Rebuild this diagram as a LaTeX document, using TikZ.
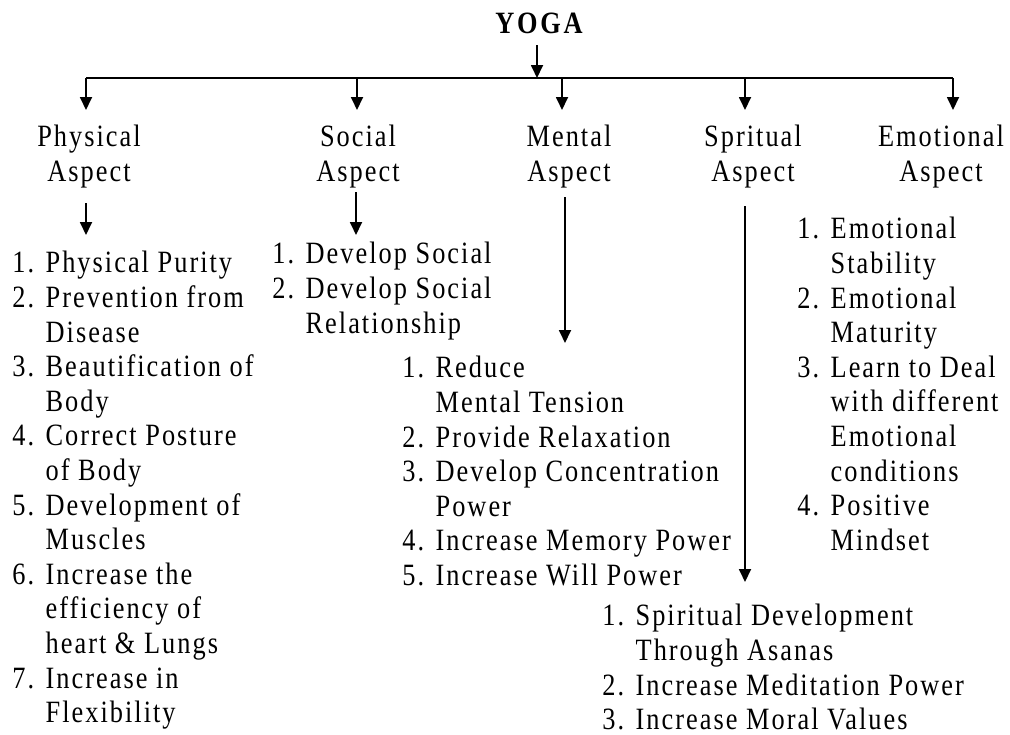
\documentclass[tikz,border=0pt]{standalone}
\usepackage{fontspec}
\setmainfont{Liberation Serif}[FakeStretch=0.85,LetterSpace=6.5]
\usetikzlibrary{arrows.meta}

\newcommand{\ind}{\phantom{1. }}

\begin{document}
\begin{tikzpicture}[x=0.5pt,y=-0.5pt,
  list_node/.style={anchor=north west,align=left,inner sep=0pt,font=\fontsize{15.5}{17.3}\selectfont},
  head_node/.style={anchor=north,align=center,inner sep=0pt,font=\fontsize{15.5}{17.5}\selectfont},
  arr/.style={-{Triangle[width=6pt,length=6.5pt]},line width=0.9pt}]
\useasboundingbox (0,0) rectangle (1010,734);

% title and the five aspects
\node[anchor=base,inner sep=0pt,font=\fontsize{15.5}{17}\selectfont\bfseries\addfontfeature{LetterSpace=9}] (yoga) at (539,33) {YOGA};
\node[head_node] (physical) at (89,125) {Physical\\Aspect};
\node[head_node] (social) at (358,125) {Social\\Aspect};
\node[head_node] (mental) at (569,125) {Mental\\Aspect};
\node[head_node] (spiritual) at (753,125) {Spritual\\Aspect};
\node[head_node] (emotional) at (941,125) {Emotional\\Aspect};

% lists
\node[list_node] (physlist) at (12,251) {1. Physical Purity\\2. Prevention from\\\ind Disease\\3. Beautification of\\\ind Body\\4. Correct Posture\\\ind of Body\\5. Development of\\\ind Muscles\\6. Increase the\\\ind efficiency of\\\ind heart \& Lungs\\7. Increase in\\\ind Flexibility};
\node[list_node] (soclist) at (272,242) {1. Develop Social\\2. Develop Social\\\ind Relationship};
\node[list_node] (mentlist) at (402,356) {1. Reduce\\\ind Mental Tension\\2. Provide Relaxation\\3. Develop Concentration\\\ind Power\\4. Increase Memory Power\\5. Increase Will Power};
\node[list_node] (spirlist) at (602,604) {1. Spiritual Development\\\ind Through Asanas\\2. Increase Meditation Power\\3. Increase Moral Values};
\node[list_node] (emolist) at (797,217) {1. Emotional\\\ind Stability\\2. Emotional\\\ind Maturity\\3. Learn to Deal\\\ind with different\\\ind Emotional\\\ind conditions\\4. Positive\\\ind Mindset};

% tree
\coordinate (top) at (537,45);
\coordinate (hub) at (537,78);
\foreach \x [count=\i] in {86,357,562,745,953} {
  \coordinate (b\i) at (\x,78);
  \coordinate (t\i) at (\x,110);
}
\draw[arr] (top) -- (hub);
\draw[line width=0.9pt] (b1) -- (b5);
\foreach \i in {1,...,5}
  \draw[arr] (b\i) -- (t\i);

% arrows down to the lists
\coordinate (p1) at (86,203);  \coordinate (p2) at (86,235);
\coordinate (s1) at (356,192); \coordinate (s2) at (356,235);
\coordinate (m1) at (565,197); \coordinate (m2) at (565,343);
\coordinate (r1) at (745,206); \coordinate (r2) at (745,582);
\draw[arr] (p1) -- (p2);
\draw[arr] (s1) -- (s2);
\draw[arr] (m1) -- (m2);
\draw[arr] (r1) -- (r2);
\end{tikzpicture}
\end{document}
